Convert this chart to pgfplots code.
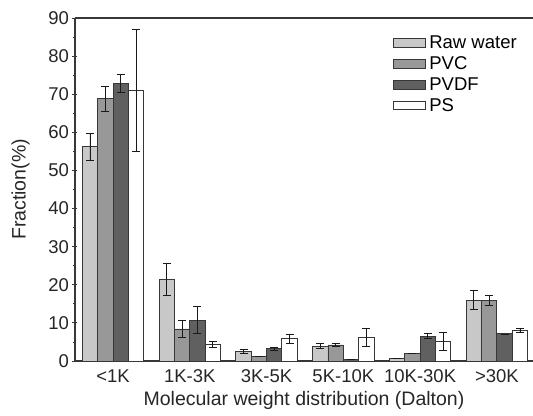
\documentclass[border=0pt]{standalone}
\usepackage{fontspec}
\setmainfont{Liberation Sans}
\usepackage{pgfplots}
\pgfplotsset{compat=1.18}
\usetikzlibrary{calc}
\definecolor{rawc}{RGB}{200,200,200}
\definecolor{pvcc}{RGB}{152,152,152}
\definecolor{pvdfc}{RGB}{96,96,96}
\definecolor{edgec}{RGB}{55,55,55}
\begin{document}
\begin{tikzpicture}
\begin{axis}[
  scale only axis,
  width=458bp, height=343bp,
  ybar=0pt,
  bar width=0.2,
  xmin=-0.495, xmax=5.47,
  ymin=0, ymax=90,
  xtick={0,1,2,3,4,5},
  xticklabels={<1K,1K-3K,3K-5K,5K-10K,10K-30K,>30K},
  x tick style={draw=none},
  ytick={0,10,...,90},
  minor y tick num=1,
  tick align=outside,
  y tick style={edgec, line width=0.8bp},
  major tick length=5bp, minor tick length=3bp,
  axis x line=box, axis y line=left,
  y axis line style={-},
  axis line style={edgec, line width=1.1bp},
  ticklabel style={font=\fontsize{18.5bp}{20bp}\selectfont, text=black!85},
  /pgf/number format/assume math mode=true,
  xlabel={Molecular weight distribution (Dalton)},
  ylabel={Fraction(\%)},
  label style={font=\fontsize{19.5bp}{21bp}\selectfont, text=black!85},
  xlabel shift=2bp,
  ylabel shift=12bp,
  legend style={draw=none, fill=none, at={(0.694,0.952)}, anchor=north west,
    font=\fontsize{18.5bp}{20bp}\selectfont, row sep=3.5bp,
    legend cell align=left, inner sep=0pt,
    nodes={inner xsep=3.5bp, inner ysep=1.5bp}},
  legend image code/.code={\draw[#1, line width=0.8bp] (0bp,-4bp) rectangle (32bp,4.5bp);},
  every axis plot/.append style={draw=edgec, line width=0.9bp,
    error bars/y dir=both, error bars/y explicit,
    error bars/error bar style={black!90, line width=0.8bp},
    error bars/error mark options={rotate=90, mark size=4bp, black!90, line width=0.8bp}},
]
\addplot[fill=rawc] coordinates {
  (0,56.2) +- (0,3.6)
  (1,21.4) +- (0,4.3)
  (2,2.5) +- (0,0.5)
  (3,3.9) +- (0,0.6)
  (4,0.7) +- (0,0)
  (5,16.0) +- (0,2.4)
};
\addplot[fill=pvcc] coordinates {
  (0,68.8) +- (0,3.2)
  (1,8.4) +- (0,2.2)
  (2,1.3) +- (0,0)
  (3,4.2) +- (0,0.3)
  (4,1.9) +- (0,0)
  (5,15.8) +- (0,1.3)
};
\addplot[fill=pvdfc] coordinates {
  (0,72.8) +- (0,2.3)
  (1,10.7) +- (0,3.5)
  (2,3.3) +- (0,0.4)
  (3,0.4) +- (0,0)
  (4,6.5) +- (0,0.65)
  (5,7.1) +- (0,0)
};
\addplot[fill=white] coordinates {
  (0,71.0) +- (0,16.0)
  (1,4.4) +- (0,0.85)
  (2,5.9) +- (0,1.2)
  (3,6.2) +- (0,2.3)
  (4,5.1) +- (0,2.4)
  (5,8.0) +- (0,0.45)
};
\legend{Raw water,PVC,PVDF,PS}
\end{axis}
\pgfresetboundingbox
\path[use as bounding box] ($(current axis.south west)+(-75bp,-55bp)$) rectangle ($(current axis.north east)+(0bp,18bp)$);
\end{tikzpicture}
\end{document}
